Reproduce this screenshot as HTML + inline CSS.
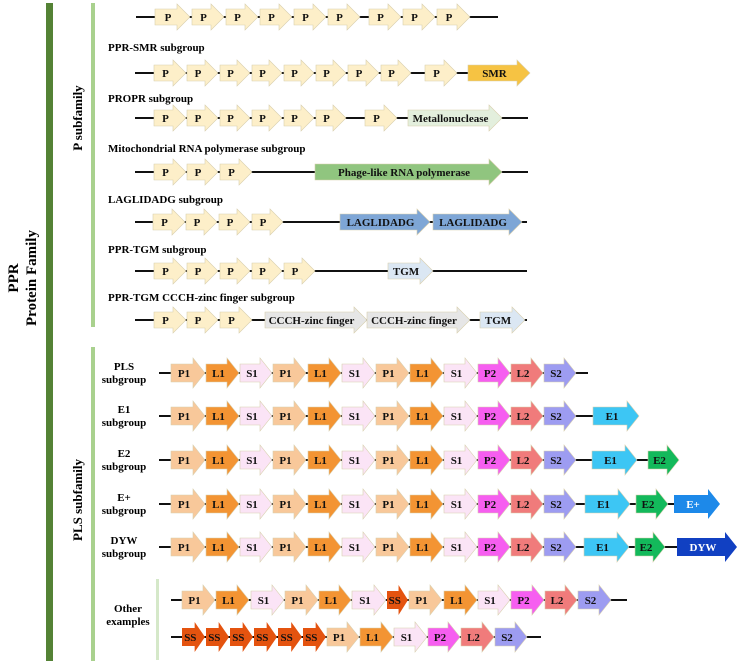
<!DOCTYPE html>
<html><head><meta charset="utf-8">
<style>
html,body{margin:0;padding:0;background:#fff;}
svg{display:block;font-family:"Liberation Serif",serif;font-weight:bold;}
</style></head>
<body>
<svg id="fig" width="738" height="662" viewBox="0 0 738 662">
  <rect x="46" y="3" width="7" height="658" fill="#548235"/>
  <rect x="91" y="3" width="4" height="324" fill="#a9d18e"/>
  <rect x="91" y="347" width="4" height="314" fill="#a9d18e"/>
  <rect x="156" y="579" width="3" height="81" fill="#d5e8c9"/>
  <text transform="translate(18,278) rotate(-90)" text-anchor="middle" font-size="15">PPR</text>
  <text transform="translate(36,278) rotate(-90)" text-anchor="middle" font-size="15">Protein Family</text>
  <text transform="translate(82,118) rotate(-90)" text-anchor="middle" font-size="13">P subfamily</text>
  <text transform="translate(82,500) rotate(-90)" text-anchor="middle" font-size="13">PLS subfamily</text>
  <g font-size="11">
    <text x="108" y="51">PPR-SMR subgroup</text>
    <text x="108" y="102">PROPR subgroup</text>
    <text x="108" y="152">Mitochondrial RNA polymerase subgroup</text>
    <text x="108" y="203">LAGLIDADG subgroup</text>
    <text x="108" y="253">PPR-TGM subgroup</text>
    <text x="108" y="301">PPR-TGM CCCH-zinc finger subgroup</text>
  </g>
  <g font-size="11" text-anchor="middle">
    <text x="124" y="370">PLS</text><text x="124" y="383">subgroup</text>
    <text x="124" y="413">E1</text><text x="124" y="426">subgroup</text>
    <text x="124" y="457">E2</text><text x="124" y="470">subgroup</text>
    <text x="124" y="501">E+</text><text x="124" y="514">subgroup</text>
    <text x="124" y="544">DYW</text><text x="124" y="557">subgroup</text>
    <text x="128" y="612">Other</text><text x="128" y="625">examples</text>
  </g>
  <g id="rows"></g>
</svg>
<script>
const colors = {P:"#fdefc9",SMR:"#f6c343",Metallonuclease:"#e3efdd","Phage-like RNA polymerase":"#90c57f",LAGLIDADG:"#7ea6d6",TGM:"#dbe7f3","CCCH-zinc finger":"#e6e6e6",
P1:"#f8c89a",L1:"#f39433",S1:"#fbe4f6",P2:"#f65ef0",L2:"#f07b7b",S2:"#9d9cf1",E1:"#3dc6f4",E2:"#13b95b","E+":"#1d89e9",DYW:"#1140c2",SS:"#e4530f"};
const rowY = [17,73,118,172,222,271,320,373,416,460,504,547,600,637];
const rowLineStart = [136,135,135,135,135,135,135,159,159,159,159,159,171,171];
const rowLineEnd = [498,468,528,528,527,527,527,588,593,648,674,677,627,541];
const rowLabels = [
 ["P","P","P","P","P","P","P","P","P"],
 ["P","P","P","P","P","P","P","P","P","SMR"],
 ["P","P","P","P","P","P","P","Metallonuclease"],
 ["P","P","P","Phage-like RNA polymerase"],
 ["P","P","P","P","LAGLIDADG","LAGLIDADG"],
 ["P","P","P","P","P","TGM"],
 ["P","P","P","CCCH-zinc finger","CCCH-zinc finger","TGM"],
 ["P1","L1","S1","P1","L1","S1","P1","L1","S1","P2","L2","S2"],
 ["P1","L1","S1","P1","L1","S1","P1","L1","S1","P2","L2","S2","E1"],
 ["P1","L1","S1","P1","L1","S1","P1","L1","S1","P2","L2","S2","E1","E2"],
 ["P1","L1","S1","P1","L1","S1","P1","L1","S1","P2","L2","S2","E1","E2","E+"],
 ["P1","L1","S1","P1","L1","S1","P1","L1","S1","P2","L2","S2","E1","E2","DYW"],
 ["P1","L1","S1","P1","L1","S1","SS","P1","L1","S1","P2","L2","S2"],
 ["SS","SS","SS","SS","SS","SS","P1","L1","S1","P2","L2","S2"]
];
const rowStarts = [
 [155,192,226,260,294,328,369,403,437],
 [154,187,220,252,284,316,348,381,425,468],
 [154,187,220,252,284,316,365,408],
 [154,187,220,315],
 [153,186,219,252,340,433],
 [154,187,220,252,284,388],
 [154,187,220,265,367,480],
 [171,206,240,273,308,342,376,410,444,478,511,544],
 [171,206,240,273,308,342,376,410,444,478,511,544,593],
 [171,206,240,273,308,342,376,410,444,478,511,544,592,648],
 [171,206,240,273,308,342,376,410,444,478,511,544,585,636,674],
 [171,206,240,273,308,342,376,410,444,478,511,544,584,635,677],
 [182,216,251,285,319,352,387,409,444,478,511,545,578],
 [182,206,230,254,278,303,327,360,394,428,461,495]
];
const rowEnds = [
 [190,224,258,292,326,360,401,435,470],
 [186,218,250,282,314,346,379,411,457,530],
 [186,218,250,282,314,346,397,502],
 [186,218,252,502],
 [185,217,250,283,430,522],
 [186,218,250,282,315,433],
 [186,218,252,367,470,525],
 [205,239,272,306,341,375,409,443,477,510,543,576],
 [205,239,272,306,341,375,409,443,477,510,543,576,639],
 [205,239,272,306,341,375,409,443,477,510,543,576,637,679],
 [205,239,272,306,341,375,409,443,477,510,543,576,630,668,720],
 [205,239,272,306,341,375,409,443,477,510,543,576,629,665,737],
 [215,249,284,318,351,386,408,442,477,510,544,577,611],
 [205,229,253,277,302,326,359,393,427,460,494,527]
];
const NS="http://www.w3.org/2000/svg";
const g=document.getElementById('rows');
function mk(t,a){const e=document.createElementNS(NS,t);for(const k in a)e.setAttribute(k,a[k]);return e;}
rowY.forEach((y,r)=>{
  const row=mk('g',{});
  
  
  const ln=mk('line',{x1:rowLineStart[r],x2:rowLineEnd[r],y1:y,y2:y,stroke:'#111','stroke-width':2});
  
  
  row.appendChild(ln);
  const pls=r>=7;
  const bh=pls?9:8, hh=pls?15:13, hl=pls?12:13;
  rowLabels[r].forEach((lab,i)=>{
    const x0=rowStarts[r][i], x1=rowEnds[r][i];
    const w=x1-x0, h=Math.min(hl,w*0.45), xb=x1-h;
    const pts=[[x0,y-bh],[xb,y-bh],[xb,y-hh],[x1,y],[xb,y+hh],[xb,y+bh],[x0,y+bh]].map(p=>p.join(',')).join(' ');
    const dark=['DYW','E+','SS'].includes(lab);
    const p=mk('polygon',{points:pts,fill:colors[lab],stroke:dark?'none':'#d8cfae','stroke-width':0.6});
    
    
    row.appendChild(p);
    const t=mk('text',{x:(x0+xb)/2+(w>60?2:2),y:y+4,'text-anchor':'middle','font-size':11,fill:(lab==='DYW'||lab==='E+')?'#fff':'#111'});
    t.textContent=lab;
    
    
    row.appendChild(t);
  });
  g.appendChild(row);
});
</script>
</body></html>
